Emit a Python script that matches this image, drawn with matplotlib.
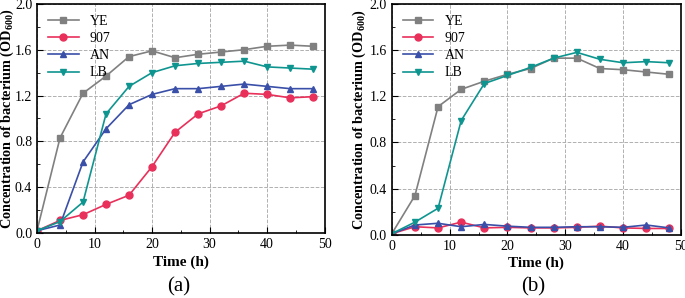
import matplotlib
matplotlib.use("Agg")
import matplotlib.pyplot as plt
from matplotlib.ticker import MultipleLocator, FormatStrFormatter

plt.rcParams['font.family'] = ['Liberation Serif', 'DejaVu Serif']
plt.rcParams['mathtext.fontset'] = 'custom'
plt.rcParams['mathtext.rm'] = 'Liberation Serif'
plt.rcParams['mathtext.bf'] = 'Liberation Serif:bold'

time = [0, 4, 8, 12, 16, 20, 24, 28, 32, 36, 40, 44, 48]
series = ['YE', '907', 'AN', 'LB']

# panel (a)
a_ye = [0.02, 0.83, 1.22, 1.37, 1.54, 1.59, 1.53, 1.56, 1.58, 1.60, 1.63, 1.64, 1.63]
a_907 = [0.02, 0.11, 0.16, 0.25, 0.33, 0.58, 0.88, 1.04, 1.11, 1.22, 1.21, 1.18, 1.19]
a_an = [0.02, 0.07, 0.62, 0.91, 1.12, 1.21, 1.26, 1.26, 1.28, 1.30, 1.28, 1.26, 1.26]
a_lb = [0.02, 0.10, 0.27, 1.04, 1.28, 1.40, 1.46, 1.48, 1.49, 1.50, 1.45, 1.44, 1.43]

# panel (b)
b_ye = [0.01, 0.34, 1.11, 1.26, 1.33, 1.39, 1.44, 1.53, 1.53, 1.44, 1.43, 1.41, 1.39]
b_907 = [0.01, 0.07, 0.06, 0.11, 0.06, 0.065, 0.06, 0.06, 0.065, 0.075, 0.06, 0.055, 0.055]
b_an = [0.01, 0.085, 0.10, 0.07, 0.09, 0.075, 0.065, 0.065, 0.07, 0.07, 0.065, 0.085, 0.06]
b_lb = [0.01, 0.11, 0.23, 0.99, 1.31, 1.38, 1.45, 1.53, 1.58, 1.52, 1.49, 1.50, 1.49]

colors = ['#808080', '#e8305a', '#3a4fa8', '#0f9590']
markers = ['s', 'o', '^', 'v']

fig = plt.figure(figsize=(6.85, 2.98), dpi=100)
ax1 = fig.add_axes([0.054, 0.218, 0.420, 0.769])
ax2 = fig.add_axes([0.572, 0.212, 0.422, 0.775])

panels = [(ax1, [a_ye, a_907, a_an, a_lb], '(a)', 0.261, -0.074),
          (ax2, [b_ye, b_907, b_an, b_lb], '(b)', 0.778, -0.083)]
for ax, data, tag, tx, lx in panels:
    for name, vals, c, m in zip(series, data, colors, markers):
        ax.plot(time, vals, color=c, marker=m, markersize=5, linewidth=1.2, label=name)
    ax.set_xlim(0, 50)
    ax.set_ylim(0, 2.0)
    ax.xaxis.set_major_locator(MultipleLocator(10))
    ax.xaxis.set_minor_locator(MultipleLocator(5))
    ax.yaxis.set_major_locator(MultipleLocator(0.4))
    ax.yaxis.set_minor_locator(MultipleLocator(0.2))
    ax.yaxis.set_major_formatter(FormatStrFormatter('%.1f'))
    ax.tick_params(which='both', direction='in', labelsize=10)
    ax.tick_params(which='major', length=4)
    ax.tick_params(which='minor', length=2)
    ax.grid(True, which='major', linestyle='--', color='#b0b0b0', linewidth=0.7)
    for sp in ax.spines.values():
        sp.set_linewidth(1.2)
    ax.set_xlabel('Time (h)', fontsize=11, fontweight='bold', labelpad=3)
    ax.set_ylabel(r'Concentration of bacterium (OD$_\mathbf{600}$)', fontsize=10.3,
                  fontweight='bold')
    ax.yaxis.set_label_coords(lx, 0.5)
    ax.legend(loc='upper left', frameon=False, fontsize=10, handlelength=2.2,
              labelspacing=0.3, borderaxespad=0.4)
    fig.text(tx, 0.037, tag, fontsize=15, ha='center', va='center')

fig.savefig('out.png', dpi=100)
